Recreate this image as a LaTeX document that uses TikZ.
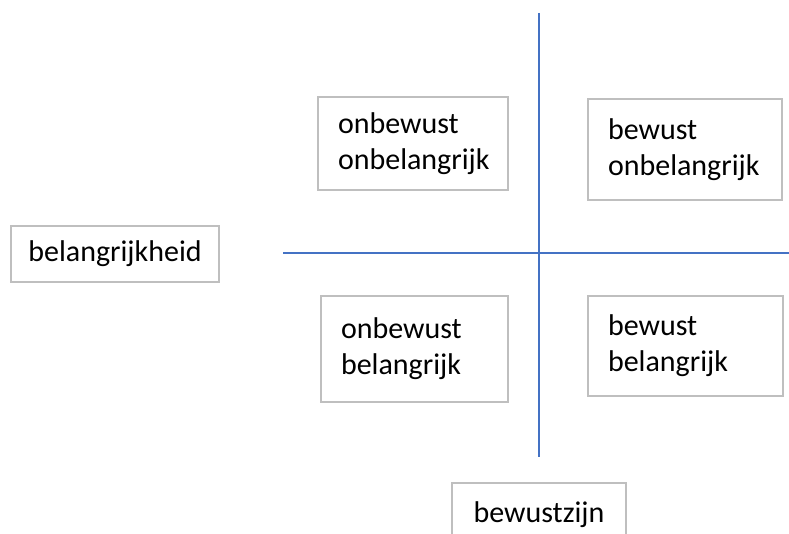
\documentclass[tikz,border=0pt]{standalone}
\usepackage{fontspec}
\setmainfont{Carlito}
\definecolor{axisblue}{HTML}{4472C4}
\definecolor{boxgray}{HTML}{BFBFBF}
\begin{document}
\begin{tikzpicture}[x=1pt,y=1pt,
  quadbox/.style={draw=boxgray, line width=1.3pt, rectangle, inner xsep=20pt, inner ysep=0pt,
    align=left, font=\fontsize{30}{36}\selectfont, anchor=center},
  labbox/.style={draw=boxgray, line width=1.3pt, rectangle, inner sep=0pt, align=center,
    font=\fontsize{30}{36}\selectfont, anchor=center},
  axis/.style={draw=axisblue, line width=1.6pt}]
\useasboundingbox (0,0) rectangle (789,-534);
% axes
\coordinate (vtop) at (539,-13);
\coordinate (vbot) at (539,-457);
\coordinate (hleft) at (283,-253);
\coordinate (hright) at (789,-253);
\draw[axis] (vtop) -- (vbot);
\draw[axis] (hleft) -- (hright);
% quadrant boxes
\node[quadbox, text width=150pt, minimum height=93pt] (ol) at (413,-143.5) {onbewust\\onbelangrijk};
\node[quadbox, text width=154pt, minimum height=101pt] (bl) at (685,-149.5) {bewust\\onbelangrijk};
\node[quadbox, text width=147pt, minimum height=106pt] (ob) at (414.5,-349) {onbewust\\belangrijk};
\node[quadbox, text width=155pt, minimum height=100pt] (bb) at (685.5,-346) {bewust\\belangrijk};
% axis labels
\node[labbox, minimum width=208pt, minimum height=56pt] (imp) at (115,-254) {belangrijkheid};
\node[labbox, minimum width=174pt, minimum height=63pt] (aw) at (539,-514.5) {bewustzijn};
\end{tikzpicture}
\end{document}
